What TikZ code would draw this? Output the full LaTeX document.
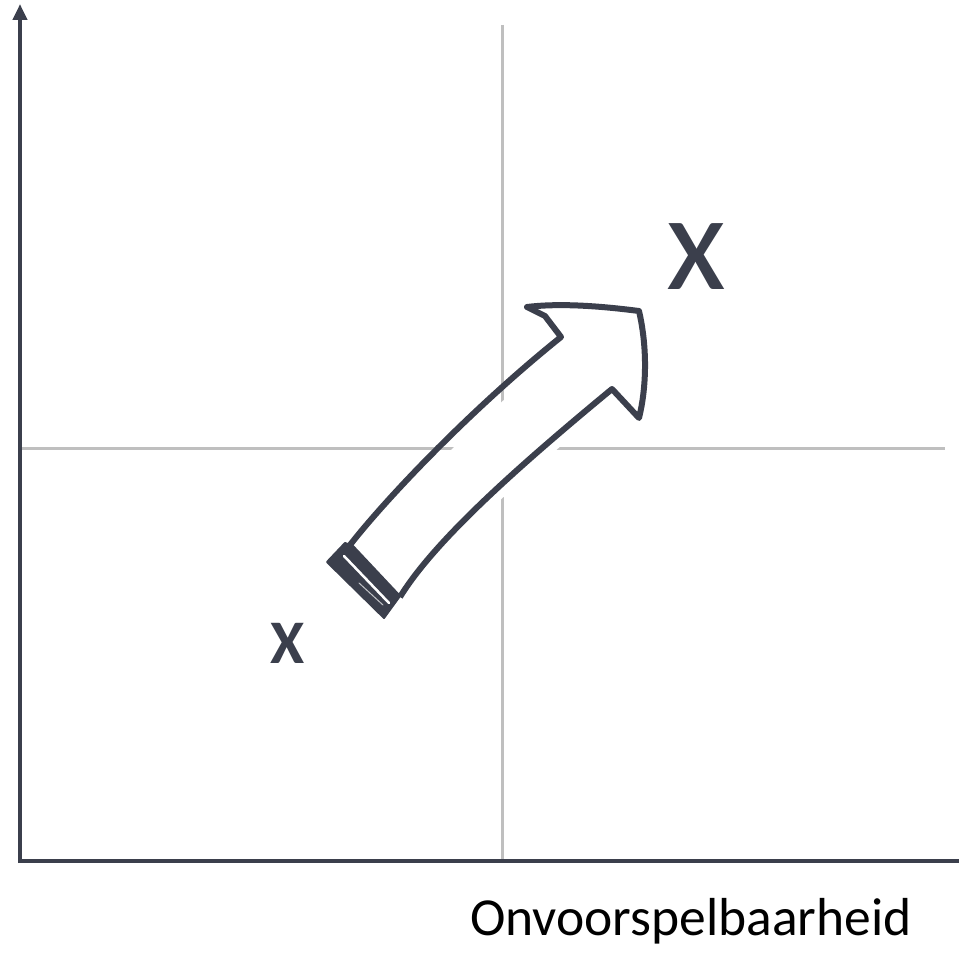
\documentclass[tikz,border=0pt]{standalone}
\usepackage{fontspec}
\setmainfont{Carlito}
\usetikzlibrary{arrows.meta}
\definecolor{ink}{RGB}{59,63,76}
\definecolor{grid}{RGB}{191,191,191}
\tikzset{
  axis/.style={draw=ink, line width=4.7pt},
  gridline/.style={draw=grid, line width=3pt},
  outline/.style={draw=ink, line width=6pt, line join=round},
  lbl/.style={text=ink, inner sep=0pt}
}
\begin{document}
\begin{tikzpicture}[x=1pt,y=-1pt]
\useasboundingbox (0,0) rectangle (959,957);
% grid lines
\coordinate (gvt) at (502,25);
\coordinate (gvb) at (502,860);
\coordinate (ghl) at (22,449);
\coordinate (ghr) at (945,449);
\draw[gridline] (gvt) -- (gvb);
\draw[gridline] (ghl) -- (ghr);
% axes
\coordinate (origin) at (20,861);
\coordinate (ytop) at (20,4);
\coordinate (xend) at (959,861);
\draw[axis, -{Triangle[length=16pt,width=14pt]}] (20,863) -- (ytop);
\draw[axis] (18,861) -- (xend);
% white fill of the arrow (offset, sketch style)
\fill[white, shift={(6,9)}]
  (350,545) .. controls (385,500) and (470,410) .. (561,337)
  -- (545,316) -- (527,307)
  .. controls (560,303) and (600,306) .. (639,311)
  .. controls (648,350) and (646,390) .. (639,418)
  -- (612,389)
  .. controls (520,465) and (435,540) .. (400,597) -- cycle;
% arrow outline
\draw[outline]
  (350,545) .. controls (385,500) and (470,410) .. (561,337)
  -- (545,316) -- (527,307)
  .. controls (560,303) and (600,306) .. (639,311)
  .. controls (648,350) and (646,390) .. (639,418)
  -- (612,389)
  .. controls (520,465) and (435,540) .. (400,597);
% tail band
\fill[ink, draw=ink, line width=2pt, line join=round]
  (327,562) -- (345,543) -- (353,546) -- (400,596) -- (384,618) -- cycle;
\draw[white, line width=2.5pt, line cap=round] (344,556) -- (389,603);
\draw[white!70!ink, line width=1pt, line cap=round] (359,583) -- (383,605);
% labels
\node[lbl, anchor=base, font=\fontsize{62}{70}\selectfont\bfseries] (xsmall) at (287.5,663) {X};
\node[lbl, anchor=base, font=\fontsize{138}{150}\selectfont] (xlarge) at (696,290) {x};
\node[lbl, text=black, anchor=base, font=\fontsize{53.5}{60}\selectfont] (xlabel) at (691,935) {Onvoorspelbaarheid};
\end{tikzpicture}
\end{document}
